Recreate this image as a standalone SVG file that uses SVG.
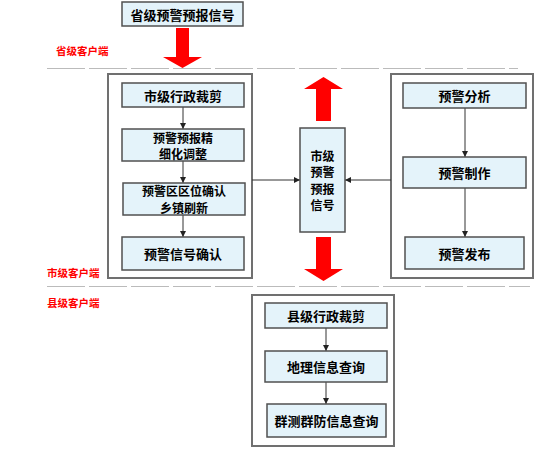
<svg xmlns="http://www.w3.org/2000/svg" width="554" height="456" viewBox="0 0 554 456">
<defs>
<style>
.grp{fill:#fff;stroke:#707070;stroke-width:2}
.box{fill:#E4F3FA;stroke:#505050;stroke-width:1.5}
.t{font-family:"Noto Sans CJK SC","Noto Sans",sans-serif;font-size:13px;font-weight:bold;fill:#000;text-anchor:middle;dominant-baseline:central}
.m{font-size:12px}
.lab{font-family:"Noto Sans CJK SC","Noto Sans",sans-serif;font-size:10.5px;font-weight:bold;fill:#f00}
.dash{stroke:#bbb;stroke-width:1;stroke-dasharray:38 4;fill:none}
.con{stroke:#333;stroke-width:1;fill:none;marker-end:url(#ah)}
.big{fill:#f00}
</style>
<marker id="ah" viewBox="0 0 10 10" refX="10" refY="5" markerWidth="6" markerHeight="6" orient="auto" markerUnits="userSpaceOnUse">
<path d="M0,0 L10,5 L0,10 z" fill="#222"/>
</marker>
</defs>
<rect width="554" height="456" fill="#fff"/>
<g id="separators">
<line class="dash" x1="47" y1="68.5" x2="518" y2="68.5"/>
<line class="dash" x1="47" y1="286.5" x2="530" y2="286.5"/>
</g>
<g id="labels">
<text class="lab" x="56" y="55">省级客户端</text>
<text class="lab" x="47" y="277">市级客户端</text>
<text class="lab" x="47" y="307">县级客户端</text>
</g>
<g id="big-arrows">
<path class="big" d="M176,28 H189 V57 H202 L182.5,68 L163,57 H176 Z"/>
<path class="big" d="M323.5,77 L343,89 H331 V121 H316 V89 H304 Z"/>
<path class="big" d="M316,237 H331 V269 H343 L323.5,281 L304,269 H316 Z"/>
</g>
<g id="node-province">
<rect class="box" x="122" y="2" width="121" height="24"/>
<text class="t" x="182.5" y="14">省级预警预报信号</text>
</g>
<g id="group-city-left">
<rect class="grp" x="108" y="74" width="144" height="204"/>
</g>
<g id="group-city-right">
<rect class="grp" x="391" y="74" width="142" height="204"/>
</g>
<g id="group-county">
<rect class="grp" x="252" y="295" width="142" height="151"/>
</g>
<g id="connectors">
<line class="con" x1="183" y1="107" x2="183" y2="129"/>
<line class="con" x1="183" y1="161" x2="183" y2="183"/>
<line class="con" x1="183" y1="215" x2="183" y2="237"/>
<line class="con" x1="465" y1="108" x2="465" y2="157"/>
<line class="con" x1="465" y1="188" x2="465" y2="237"/>
<line class="con" x1="252" y1="180" x2="300" y2="180"/>
<line class="con" x1="391" y1="180" x2="345" y2="180"/>
<line class="con" x1="326" y1="328" x2="326" y2="351"/>
<line class="con" x1="326" y1="382" x2="326" y2="404"/>
</g>
<g id="node-city-clip">
<rect class="box" x="122" y="83" width="122" height="24"/>
<text class="t" x="183" y="95">市级行政裁剪</text>
</g>
<g id="node-refine">
<rect class="box" x="122" y="129" width="122" height="32"/>
<text class="t m" x="183" y="137">预警预报精</text>
<text class="t m" x="183" y="153">细化调整</text>
</g>
<g id="node-area">
<rect class="box" x="123" y="183" width="122" height="32"/>
<text class="t m" x="184" y="190">预警区区位确认</text>
<text class="t m" x="184" y="207">乡镇刷新</text>
</g>
<g id="node-confirm">
<rect class="box" x="122" y="237" width="122" height="33"/>
<text class="t" x="183" y="253.5">预警信号确认</text>
</g>
<g id="node-city-signal">
<rect class="box" x="300" y="128" width="45" height="104"/>
<text class="t m" x="322.5" y="155">市级</text>
<text class="t m" x="322.5" y="171.5">预警</text>
<text class="t m" x="322.5" y="188">预报</text>
<text class="t m" x="322.5" y="204.5">信号</text>
</g>
<g id="node-analysis">
<rect class="box" x="403" y="83" width="123" height="25"/>
<text class="t" x="464.5" y="95.5">预警分析</text>
</g>
<g id="node-make">
<rect class="box" x="403" y="157" width="123" height="31"/>
<text class="t" x="464.5" y="172.5">预警制作</text>
</g>
<g id="node-publish">
<rect class="box" x="405" y="237" width="119" height="32"/>
<text class="t" x="464.5" y="253">预警发布</text>
</g>
<g id="node-county-clip">
<rect class="box" x="265" y="303" width="122" height="25"/>
<text class="t" x="326" y="315.5">县级行政裁剪</text>
</g>
<g id="node-geo">
<rect class="box" x="265" y="351" width="122" height="31"/>
<text class="t" x="326" y="366.5">地理信息查询</text>
</g>
<g id="node-mass">
<rect class="box" x="267" y="404" width="119" height="33"/>
<text class="t" x="326.5" y="420.5">群测群防信息查询</text>
</g>
</svg>
